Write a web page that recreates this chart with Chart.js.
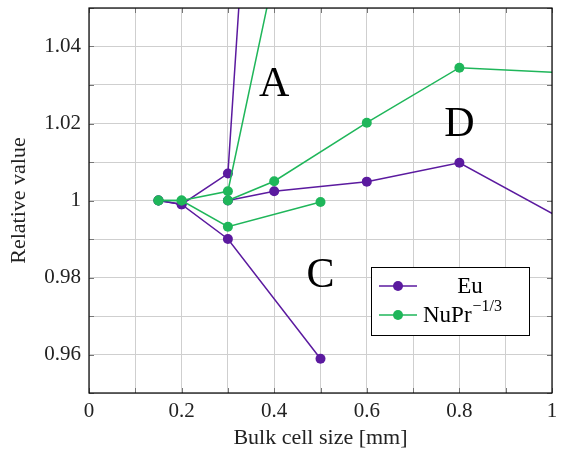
<!DOCTYPE html>
<html>
<head>
<meta charset="utf-8">
<script src="https://cdn.jsdelivr.net/npm/chart.js@4"></script>
<style>
  body { margin: 0; background: #fff; }
  #wrap { width: 563px; height: 453px; }
</style>
</head>
<body>
<div id="wrap"><canvas id="chart" width="563" height="453"></canvas></div>
<script>
// series A (runs off the top), C (drops down), D (long run to the right)
const xA = [0.15, 0.2, 0.3, 0.4];
const euA = [1.0, 0.999, 1.007, 1.19];
const nuA = [1.0, 1.0, 1.0024, 1.059];

const xC = [0.15, 0.2, 0.3, 0.5];
const euC = [1.0, 0.999, 0.990, 0.9589];
const nuC = [1.0, 1.0, 0.9932, 0.9996];

const xD = [0.3, 0.4, 0.6, 0.8, 1.2];
const euD = [1.0, 1.0024, 1.0049, 1.0098, 0.9835];
const nuD = [1.0, 1.005, 1.0202, 1.0345, 1.0321];

const xTickValues = [0, 0.1, 0.2, 0.3, 0.4, 0.5, 0.6, 0.7, 0.8, 0.9, 1];
const xTickLabels = ['0', '', '0.2', '', '0.4', '', '0.6', '', '0.8', '', '1'];
const yTickValues = [0.95, 0.96, 0.97, 0.98, 0.99, 1, 1.01, 1.02, 1.03, 1.04, 1.05];
const yTickLabels = ['', '0.96', '', '0.98', '', '1', '', '1.02', '', '1.04', ''];

const seriesNames = ['Eu', 'NuPr'];
const noteText = ['A', 'C', 'D'];
const noteX = [0.4, 0.5, 0.8];
const noteY = [1.03, 0.9803, 1.0197];

const purple = '#5b1a9f';
const green = '#1fb65a';
const serif = "'Liberation Serif', serif";

function pts(xs, ys) {
    return xs.map((x, i) => ({ x: x, y: ys[i] }));
}

function series(xs, ys, color, order) {
    return {
        data: pts(xs, ys),
        borderColor: color,
        backgroundColor: color,
        borderWidth: 1.5,
        pointRadius: 5,
        pointBorderWidth: 0,
        showLine: true,
        clip: 0,
        order: order
    };
}

// labels A/C/D, pgfplots-style inner ticks, frame and legend
const extras = {
    id: 'extras',
    afterDatasetsDraw(chart) {
        const ctx = chart.ctx;
        const a = chart.chartArea;
        const xs = chart.scales.x, ys = chart.scales.y;
        ctx.save();

        ctx.fillStyle = '#000';
        ctx.font = '42px ' + serif;
        ctx.textAlign = 'center';
        ctx.textBaseline = 'middle';
        noteText.forEach((t, i) => {
            ctx.fillText(t, xs.getPixelForValue(noteX[i]), ys.getPixelForValue(noteY[i]));
        });

        // inner tick marks on all four sides
        ctx.strokeStyle = '#777';
        ctx.lineWidth = 1;
        ctx.beginPath();
        xTickValues.forEach(v => {
            const px = Math.round(xs.getPixelForValue(v)) + 0.5;
            ctx.moveTo(px, a.bottom); ctx.lineTo(px, a.bottom - 5);
            ctx.moveTo(px, a.top); ctx.lineTo(px, a.top + 5);
        });
        yTickValues.forEach(v => {
            const py = Math.round(ys.getPixelForValue(v)) + 0.5;
            ctx.moveTo(a.left, py); ctx.lineTo(a.left + 5, py);
            ctx.moveTo(a.right, py); ctx.lineTo(a.right - 5, py);
        });
        ctx.stroke();

        ctx.strokeStyle = '#000';
        ctx.lineWidth = 1.2;
        ctx.strokeRect(a.left, a.top, a.right - a.left, a.bottom - a.top);

        // legend box
        const bx = a.right - 181, by = a.bottom - 126, bw = 158, bh = 68;
        ctx.fillStyle = '#fff';
        ctx.fillRect(bx, by, bw, bh);
        ctx.lineWidth = 1;
        ctx.strokeRect(bx + 0.5, by + 0.5, bw, bh);
        const colors = [purple, green];
        seriesNames.forEach((name, i) => {
            const yy = by + 19 + i * 29;
            ctx.strokeStyle = colors[i];
            ctx.lineWidth = 1.5;
            ctx.beginPath();
            ctx.moveTo(bx + 8, yy); ctx.lineTo(bx + 46, yy);
            ctx.stroke();
            ctx.fillStyle = colors[i];
            ctx.beginPath();
            ctx.arc(bx + 27, yy, 5, 0, Math.PI * 2);
            ctx.fill();
            ctx.fillStyle = '#000';
            ctx.textBaseline = 'middle';
            ctx.font = '23px ' + serif;
            if (i === 0) {
                ctx.textAlign = 'center';
                ctx.fillText(name, bx + 99, yy + 1);
            } else {
                ctx.textAlign = 'left';
                ctx.fillText(name, bx + 52, yy + 1);
                const w = ctx.measureText(name).width;
                ctx.font = '16px ' + serif;
                ctx.fillText('\u22121/3', bx + 52 + w + 1, yy - 8);
            }
        });
        ctx.restore();
    }
};

new Chart(document.getElementById('chart').getContext('2d'), {
    type: 'scatter',
    data: {
        datasets: [
            series(xA, euA, purple, 1),
            series(xC, euC, purple, 1),
            series(xD, euD, purple, 1),
            series(xA, nuA, green, 0),
            series(xC, nuC, green, 0),
            series(xD, nuD, green, 0)
        ]
    },
    options: {
        responsive: false,
        animation: false,
        layout: { padding: { left: 0, top: 8, right: 11, bottom: 0 } },
        plugins: { legend: { display: false }, tooltip: { enabled: false } },
        scales: {
            x: {
                type: 'linear', min: 0, max: 1,
                afterBuildTicks: s => { s.ticks = xTickValues.map(v => ({ value: v })); },
                afterFit: s => { s.height = 60; s.paddingLeft = 0; s.paddingRight = 0; },
                grid: { color: '#cfcfcf', lineWidth: 1, drawTicks: false },
                border: { display: false },
                ticks: {
                    padding: 6, color: '#222',
                    font: { family: serif, size: 21 },
                    callback: (v, i) => xTickLabels[i]
                },
                title: {
                    display: true, text: 'Bulk cell size [mm]', color: '#222',
                    font: { family: serif, size: 22 },
                    padding: { top: 0, bottom: 2 }
                }
            },
            y: {
                type: 'linear', min: 0.95, max: 1.05,
                afterBuildTicks: s => { s.ticks = yTickValues.map(v => ({ value: v })); },
                afterFit: s => { s.width = 89; s.paddingTop = 0; s.paddingBottom = 0; },
                grid: { color: '#cfcfcf', lineWidth: 1, drawTicks: false },
                border: { display: false },
                ticks: {
                    padding: 8, color: '#222',
                    font: { family: serif, size: 21 },
                    callback: (v, i) => yTickLabels[i]
                },
                title: {
                    display: true, text: 'Relative value', color: '#222',
                    font: { family: serif, size: 22 },
                    padding: { top: 6, bottom: 0 }
                }
            }
        }
    },
    plugins: [extras]
});
</script>
</body>
</html>
